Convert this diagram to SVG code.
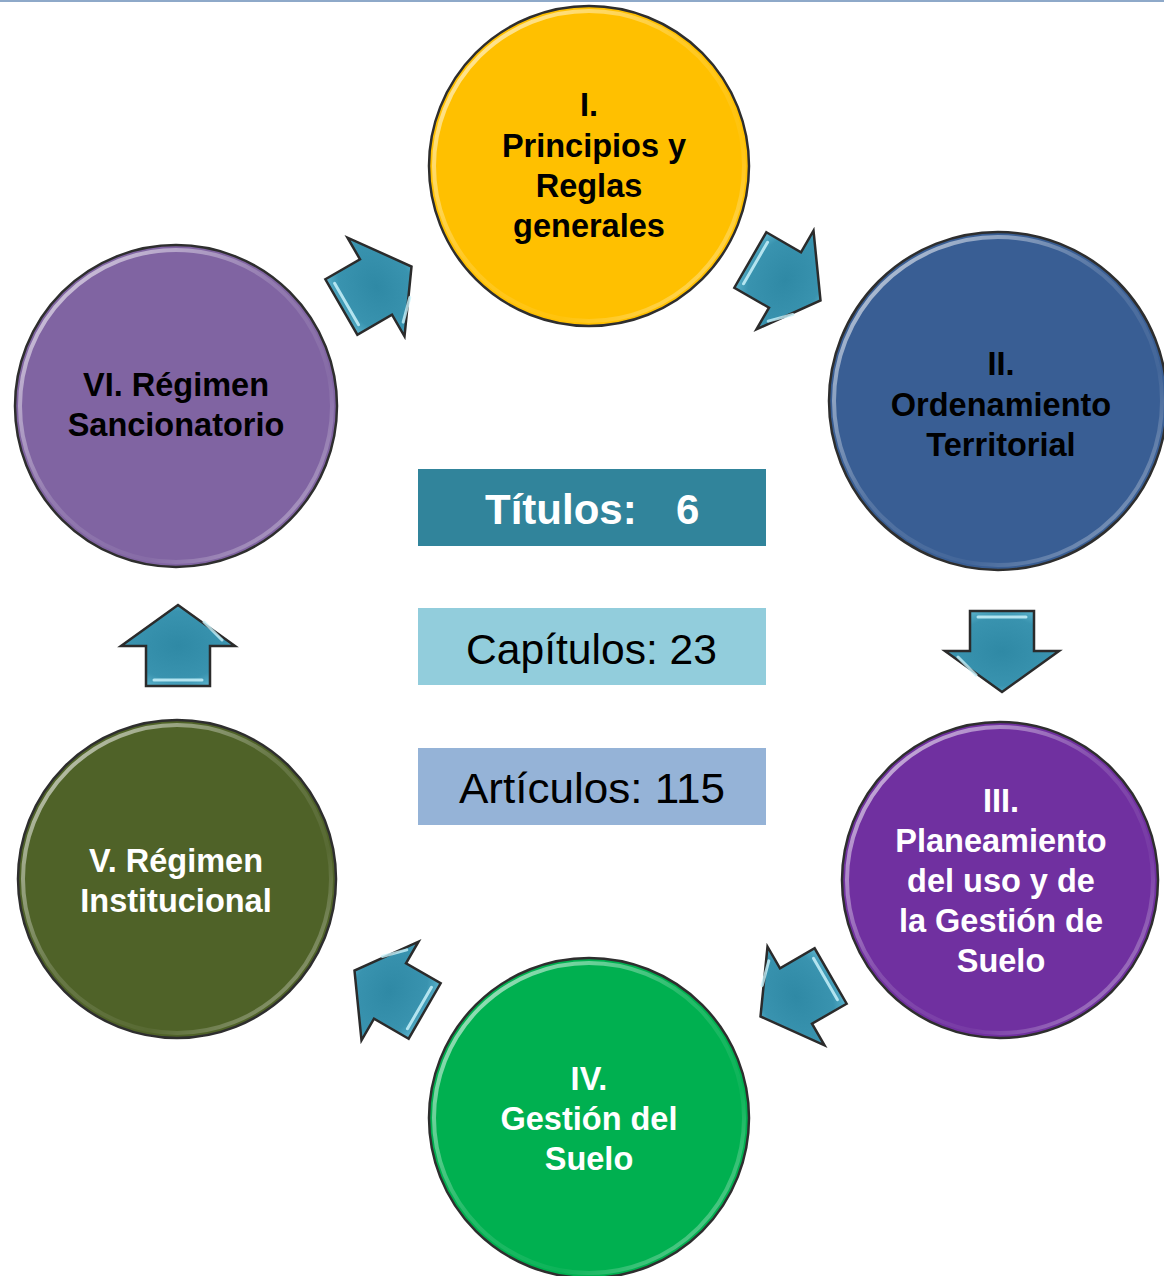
<svg xmlns="http://www.w3.org/2000/svg" width="1164" height="1276" viewBox="0 0 1164 1276">
<defs>
<radialGradient id="arrowFill" cx="0.5" cy="0.5" r="0.6">
<stop offset="0" stop-color="#2F89A5"/>
<stop offset="0.7" stop-color="#3993AF"/>
<stop offset="1" stop-color="#62B9D2"/>
</radialGradient>
<linearGradient id="rim" x1="0" y1="0" x2="1" y2="1">
<stop offset="0" stop-color="#ffffff" stop-opacity="0.75"/>
<stop offset="0.45" stop-color="#ffffff" stop-opacity="0.15"/>
<stop offset="0.7" stop-color="#ffffff" stop-opacity="0.05"/>
<stop offset="1" stop-color="#ffffff" stop-opacity="0.5"/>
</linearGradient>
<g id="arrow">
<path d="M-40,-32 L0,-32 L0,-57 L41,0 L0,57 L0,32 L-40,32 Z" fill="url(#arrowFill)" stroke="#2b2b2b" stroke-width="2.5" stroke-linejoin="miter"/>
<path d="M-34,-24 L-34,24" stroke="#c8f2fb" stroke-width="3" stroke-linecap="round" opacity="0.85"/>
<path d="M6,44 L24,26" stroke="#c8f2fb" stroke-width="3" stroke-linecap="round" opacity="0.8"/>
</g>
</defs>
<style>
.node circle.body { stroke: #2e2e2e; stroke-width: 2.5; }
.node circle.hl { fill: none; stroke: url(#rim); stroke-width: 4; }
.lbl { font-family: "Liberation Sans", Arial, sans-serif; font-weight: bold; font-size: 32.5px; text-anchor: middle; }
.dark { fill: #000000; }
.light { fill: #ffffff; }
.box text { font-family: "Liberation Sans", Arial, sans-serif; font-size: 42px; }
</style>
<rect x="0" y="0" width="1164" height="2" fill="#8EA9C9"/>

<g id="connectors">
<use href="#arrow" transform="translate(376,287) rotate(-30)"/>
<use href="#arrow" transform="translate(785,280) rotate(30)"/>
<use href="#arrow" transform="translate(1002,651) rotate(90)"/>
<use href="#arrow" transform="translate(796,996) rotate(150)"/>
<use href="#arrow" transform="translate(390,991) rotate(-150)"/>
<use href="#arrow" transform="translate(178,646) rotate(-90)"/>
</g>

<g id="node-I" class="node">
<circle class="body" cx="589" cy="166" r="160" fill="#FFC000"/>
<circle class="hl" cx="589" cy="166" r="155"/>
<text class="lbl dark"><tspan x="589" y="116">I.</tspan><tspan x="594" y="157">Principios y</tspan><tspan x="589" y="197">Reglas</tspan><tspan x="589" y="237">generales</tspan></text>
</g>

<g id="node-II" class="node">
<circle class="body" cx="998" cy="401" r="169" fill="#395E94"/>
<circle class="hl" cx="998" cy="401" r="164"/>
<text class="lbl dark"><tspan x="1001" y="375">II.</tspan><tspan x="1001" y="416">Ordenamiento</tspan><tspan x="1001" y="456">Territorial</tspan></text>
</g>

<g id="node-III" class="node">
<circle class="body" cx="1000" cy="880" r="158" fill="#7030A0"/>
<circle class="hl" cx="1000" cy="880" r="153"/>
<text class="lbl light"><tspan x="1001" y="812">III.</tspan><tspan x="1001" y="852">Planeamiento</tspan><tspan x="1001" y="892">del uso y de</tspan><tspan x="1001" y="932">la Gestión de</tspan><tspan x="1001" y="972">Suelo</tspan></text>
</g>

<g id="node-IV" class="node">
<circle class="body" cx="589" cy="1118" r="160" fill="#00B050"/>
<circle class="hl" cx="589" cy="1118" r="155"/>
<text class="lbl light"><tspan x="589" y="1090">IV.</tspan><tspan x="589" y="1130">Gestión del</tspan><tspan x="589" y="1170">Suelo</tspan></text>
</g>

<g id="node-V" class="node">
<circle class="body" cx="177" cy="879" r="159" fill="#4F6228"/>
<circle class="hl" cx="177" cy="879" r="154"/>
<text class="lbl light"><tspan x="176" y="872">V. Régimen</tspan><tspan x="176" y="912">Institucional</tspan></text>
</g>

<g id="node-VI" class="node">
<circle class="body" cx="176" cy="406" r="161" fill="#8064A2"/>
<circle class="hl" cx="176" cy="406" r="156"/>
<text class="lbl dark"><tspan x="176" y="396">VI. Régimen</tspan><tspan x="176" y="436">Sancionatorio</tspan></text>
</g>

<g id="box-titulos" class="box">
<rect x="418" y="469" width="348" height="77" fill="#31849B"/>
<text fill="#ffffff" font-weight="bold" font-size="40"><tspan x="485" y="524">Títulos:</tspan><tspan x="676" y="524">6</tspan></text>
</g>
<g id="box-capitulos" class="box">
<rect x="418" y="608" width="348" height="77" fill="#92CDDC"/>
<text x="466" y="664" fill="#000000" textLength="251" lengthAdjust="spacingAndGlyphs">Capítulos: 23</text>
</g>
<g id="box-articulos" class="box">
<rect x="418" y="748" width="348" height="77" fill="#95B3D7"/>
<text x="459" y="803" fill="#000000" textLength="266" lengthAdjust="spacingAndGlyphs">Artículos: 115</text>
</g>
</svg>
